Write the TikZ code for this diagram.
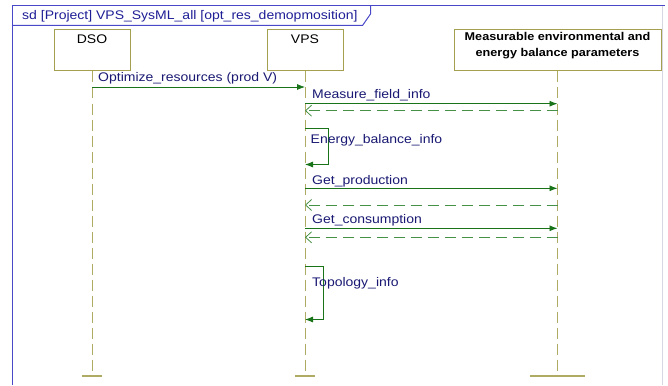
\documentclass[tikz,border=0pt]{standalone}
\usepackage{fontspec}
\setmainfont{Liberation Sans}
\newfontfamily\diagfont[FakeStretch=1.12]{Liberation Sans}
\usetikzlibrary{arrows.meta}
\definecolor{framecol}{RGB}{72,72,200}
\definecolor{edgecol}{RGB}{215,215,225}
\definecolor{titlecol}{RGB}{30,30,150}
\definecolor{labelcol}{RGB}{25,25,115}
\definecolor{msgcol}{RGB}{25,115,25}
\definecolor{retcol}{RGB}{70,145,70}
\definecolor{lifecol}{RGB}{175,170,100}
\definecolor{boxcol}{RGB}{165,160,80}

\tikzset{
  lifebox/.style={draw=boxcol, line width=1pt, fill=white, minimum width=76pt,
    minimum height=41pt, anchor=north, inner sep=0pt},
  boxtext/.style={anchor=base, text=black, inner sep=0pt},
  lifeline/.style={draw=lifecol, line width=0.9pt, dash pattern=on 11pt off 5pt},
  stopbar/.style={draw=lifecol, line width=2pt},
  msg/.style={draw=msgcol, line width=0.8pt, -{Latex[length=8pt,width=6pt]}},
  ret/.style={draw=retcol, line width=0.8pt, dash pattern=on 11pt off 6pt,
    -{Straight Barb[length=6pt,width=11pt]}},
  selfmsg/.style={draw=msgcol, line width=0.8pt, -{Latex[length=8pt,width=6pt]}},
  msglabel/.style={anchor=base west, text=labelcol, inner sep=0pt},
}

\begin{document}
\begin{tikzpicture}[x=1pt, y=-1pt, font=\diagfont\fontsize{12.5}{15}\selectfont]
\useasboundingbox (0,0) rectangle (668,385);

% diagram frame and name tab
\draw[edgecol, line width=0.6pt] (662.5,6) -- (662.5,385);
\draw[framecol, line width=1pt] (12,385) -- (12,6) -- (665,6);
\draw[framecol, line width=1pt] (12,25.5) -- (362.5,25.5) -- (370.5,14) -- (370.5,6);
\node[anchor=base west, inner sep=0pt, text=titlecol] (title) at (22,19.5)
  {sd [Project] VPS\_SysML\_all [opt\_res\_demopmosition]};

% lifeline heads
\node[lifebox] (dso) at (92,29.5) {};
\node[lifebox] (vps) at (305,29.5) {};
\node[lifebox, minimum width=207pt] (env) at (557.5,29.5) {};
\node[boxtext] (dsot) at (92,43.5) {DSO};
\node[boxtext] (vpst) at (305,43.5) {VPS};
\node[boxtext, font=\diagfont\fontsize{11.3}{16}\selectfont\bfseries, align=center, anchor=base]
  (envt) at (557.5,56.7) {Measurable environmental and\\energy balance parameters};

% lifeline ends
\coordinate (dso-end) at (92,376);
\coordinate (vps-end) at (305,376);
\coordinate (env-end) at (557.5,376);
\draw[lifeline] (dso.south) -- (dso-end);
\draw[lifeline] (vps.south) -- (vps-end);
\draw[lifeline] (env.south) -- (env-end);
\draw[stopbar] ([xshift=-10pt]dso-end) -- ([xshift=10pt]dso-end);
\draw[stopbar] ([xshift=-10pt]vps-end) -- ([xshift=10pt]vps-end);
\draw[stopbar] ([xshift=-28pt]env-end) -- ([xshift=27pt]env-end);

% message anchor points on the lifelines
\coordinate (dso-m1) at (92,87);
\coordinate (vps-m1) at (305,87);
\coordinate (vps-m2) at (305,103.7);
\coordinate (env-m2) at (557.5,103.7);
\coordinate (env-r2) at (557.5,110.7);
\coordinate (vps-r2) at (305,110.7);
\coordinate (vps-s3a) at (305,128);
\coordinate (vps-s3b) at (305,164.5);
\coordinate (vps-m4) at (305,188.3);
\coordinate (env-m4) at (557.5,188.3);
\coordinate (env-r4) at (557.5,205);
\coordinate (vps-r4) at (305,205);
\coordinate (vps-m5) at (305,228.3);
\coordinate (env-m5) at (557.5,228.3);
\coordinate (env-r5) at (557.5,237.3);
\coordinate (vps-r5) at (305,237.3);
\coordinate (vps-s6a) at (305,266);
\coordinate (vps-s6b) at (305,319.5);

% messages
\draw[msg] (dso-m1) -- (vps-m1);
\node[msglabel] (l1) at (98,81.5) {Optimize\_resources (prod V)};

\draw[msg] (vps-m2) -- (env-m2);
\node[msglabel] (l2) at (312,98.5) {Measure\_field\_info};
\draw[ret] (env-r2) -- (vps-r2);

\draw[selfmsg] (vps-s3a) -- ++(23.5,0) -- ++(0,36.5) -- (vps-s3b);
\node[msglabel] (l3) at (310.5,143.5) {Energy\_balance\_info};

\draw[msg] (vps-m4) -- (env-m4);
\node[msglabel] (l4) at (312,184.5) {Get\_production};
\draw[ret] (env-r4) -- (vps-r4);

\draw[msg] (vps-m5) -- (env-m5);
\node[msglabel] (l5) at (312,223.5) {Get\_consumption};
\draw[ret] (env-r5) -- (vps-r5);

\draw[selfmsg] (vps-s6a) -- ++(18.5,0) -- ++(0,53.5) -- (vps-s6b);
\node[msglabel] (l6) at (312,286) {Topology\_info};
\end{tikzpicture}
\end{document}
